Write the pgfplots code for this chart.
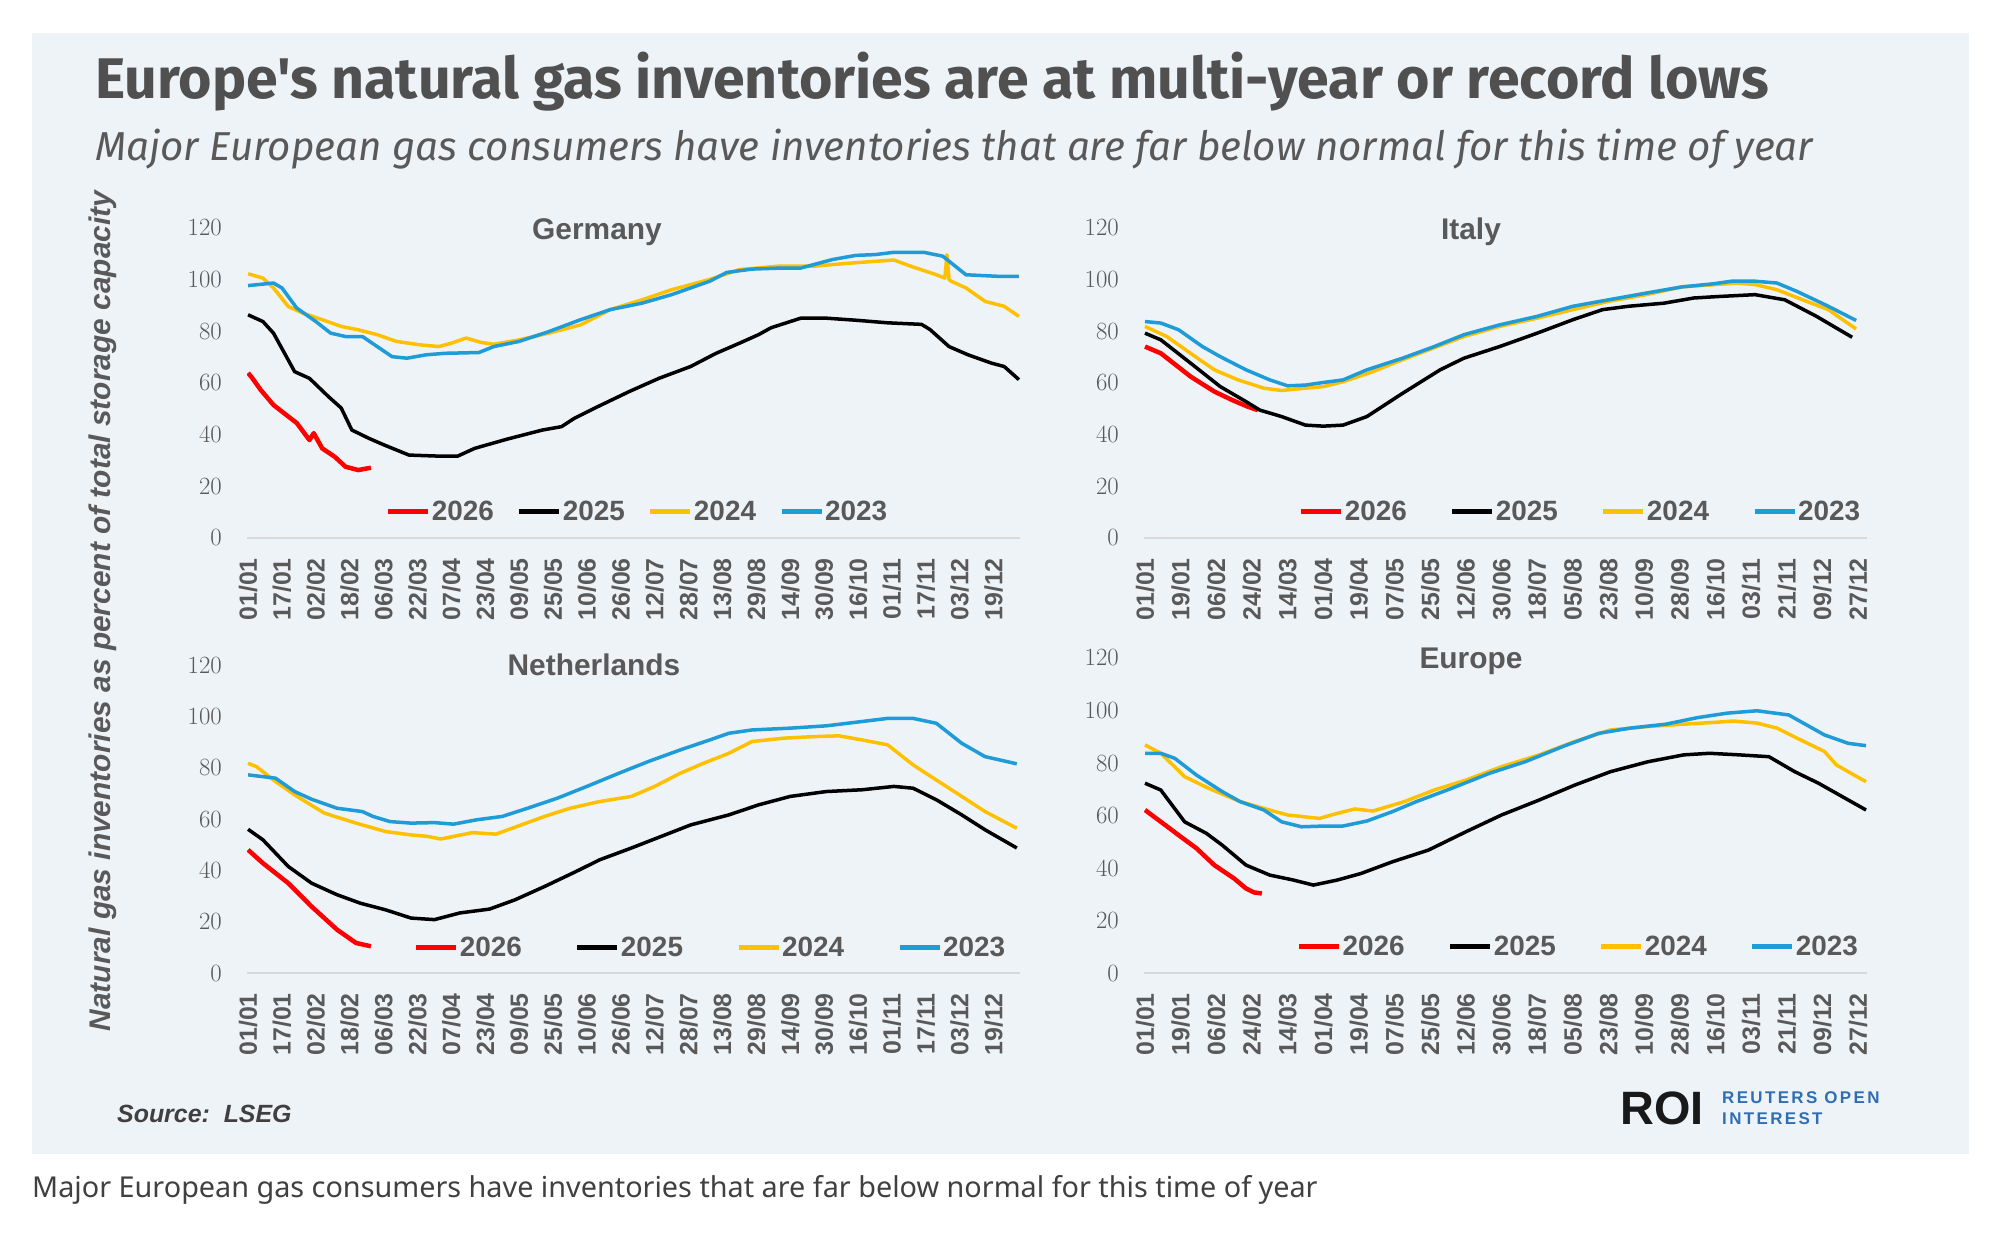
\documentclass[border=0pt]{standalone}
\usepackage{fontspec}
\setmainfont{Liberation Sans}
\newfontfamily\firasans{Fira Sans}
\newfontfamily\notosans{Noto Sans}
\usepackage{pgfplots}
\pgfplotsset{compat=1.18}

\definecolor{panel}{HTML}{EEF3F8}
\definecolor{txtgrey}{HTML}{595959}
\definecolor{titlegrey}{HTML}{505050}
\definecolor{c26}{HTML}{FF0000}
\definecolor{c25}{HTML}{000000}
\definecolor{c24}{HTML}{FFC000}
\definecolor{c23}{HTML}{1F9BD7}
\definecolor{axgrey}{HTML}{D9D9D9}
\definecolor{roiblue}{HTML}{2F6DB5}

\pgfplotsset{
  gas/.style={
    scale only axis,
    xmin=0.5, xmax=365.5, ymin=0, ymax=120,
    axis x line*=bottom, axis y line*=left,
    x axis line style={draw=axgrey, line width=1.5bp, -},
    y axis line style={draw=none},
    major tick length=0pt,
    ytick={0,20,...,120},
    yticklabel style={font=\fontsize{24}{24}\selectfont\bfseries, text=txtgrey, inner sep=0pt},
    yticklabel shift=25bp,
    xticklabel style={font=\fontsize{25}{25}\selectfont\bfseries, text=txtgrey, rotate=90, anchor=east, inner sep=0pt},
    xticklabel shift=20bp,
    legend columns=4,
    legend style={draw=none, fill=none, anchor=center,
      font=\fontsize{28}{28}\selectfont\bfseries,
      nodes={text=txtgrey, inner sep=1bp}},
    legend image code/.code={\draw[#1, line width=5bp] (0bp,0bp) -- (40bp,0bp);},
    every axis plot/.append style={line width=3.5bp, line join=round, mark=none},
  },
  deticks/.style={xtick={1,17,...,353},
    xticklabels={01/01,17/01,02/02,18/02,06/03,22/03,07/04,23/04,09/05,25/05,10/06,26/06,12/07,28/07,13/08,29/08,14/09,30/09,16/10,01/11,17/11,03/12,19/12}},
  itticks/.style={xtick={1,19,...,361},
    xticklabels={01/01,19/01,06/02,24/02,14/03,01/04,19/04,07/05,25/05,12/06,30/06,18/07,05/08,23/08,10/09,28/09,16/10,03/11,21/11,09/12,27/12}},
}

\begin{document}
\begin{tikzpicture}
% page and panel
\fill[white] (0bp,0bp) rectangle (1992bp,-1252bp);
\fill[panel] (32bp,-33bp) rectangle (1969bp,-1154bp);

% titles
\node[anchor=base west, inner sep=0pt, text=titlegrey,
  font=\firasans\bfseries\fontsize{57.5}{57.5}\selectfont] at (95bp,-98bp)
  {Europe's natural gas inventories are at multi-year or record lows};
\node[anchor=base west, inner sep=0pt, text=txtgrey,
  font=\firasans\itshape\fontsize{40.5}{40.5}\selectfont] at (95bp,-160bp)
  {Major European gas consumers have inventories that are far below normal for this time of year};
\node[rotate=90, inner sep=0pt, text=txtgrey,
  font=\bfseries\itshape\fontsize{30}{30}\selectfont] at (103bp,-611bp)
  {Natural gas inventories as percent of total storage capacity};

% Germany
\begin{axis}[gas, deticks, at={(247bp,-538bp)}, anchor=south west, width=773bp, height=310bp,
  legend style={at={(0.5045,0.084)}, /tikz/every even column/.append style={column sep=22bp}}]
\addplot[c26, line width=4.5bp] coordinates {(1,63.9)(3,61.9)(7,57.3)(13,51.5)(18,48.3)(24,44.5)(30,37.9)(32,40.6)(36,34.7)(42,31.4)(47,27.6)(53,26.3)(59,27.2)};
\addlegendentry{2026}
\addplot[c25] coordinates {(1,86.4)(8,83.8)(13,79.3)(23,64.4)(30,61.8)(39,54.7)(45,50.3)(50,41.8)(58,38.6)(65,36.1)(77,32.1)(91,31.7)(100,31.7)(108,34.7)(123,38.2)(140,41.8)(149,43.1)(155,46.3)(166,50.8)(181,56.7)(195,61.8)(210,66.4)(222,71.5)(233,75.4)(242,78.7)(248,81.4)(262,85.1)(274,85.1)(288,84.3)(303,83.3)(319,82.7)(323,80.7)(332,74.1)(341,70.9)(352,67.7)(358,66.4)(365,61.3)};
\addlegendentry{2025}
\addplot[c24] coordinates {(1,102.3)(8,100.6)(13,96.8)(20,89.6)(27,87.0)(36,84.5)(45,81.9)(53,80.6)(62,78.7)(71,76.1)(82,74.8)(91,74.1)(97,75.4)(104,77.4)(111,75.7)(117,75.0)(129,76.7)(143,79.3)(158,82.5)(172,88.4)(187,92.2)(201,96.1)(219,100.1)(233,103.9)(251,105.2)(268,105.2)(282,106.2)(297,107.1)(306,107.6)(314,105.2)(326,101.9)(330,100.6)(331,109.7)(332,100.0)(333,99.4)(340,96.8)(349,91.6)(358,89.7)(365,85.8)};
\addlegendentry{2024}
\addplot[c23] coordinates {(1,97.7)(13,98.7)(17,96.8)(24,89.0)(33,83.8)(40,79.3)(47,78.0)(55,78.0)(62,74.1)(69,70.2)(76,69.6)(85,70.9)(94,71.5)(110,71.8)(117,74.1)(129,76.1)(143,79.9)(158,84.5)(172,88.4)(187,90.9)(201,94.2)(219,99.4)(227,102.8)(239,104.1)(253,104.5)(262,104.5)(277,107.8)(288,109.4)(297,109.7)(306,110.6)(320,110.6)(329,109.1)(340,101.9)(355,101.3)(365,101.3)};
\addlegendentry{2023}
\end{axis}
\node[anchor=base, inner sep=0pt, text=txtgrey, font=\fontsize{30}{30}\selectfont\bfseries] at (597bp,-239bp) {Germany};

% Italy
\begin{axis}[gas, itticks, at={(1144bp,-538bp)}, anchor=south west, width=723bp, height=310bp,
  legend style={at={(0.603,0.084)}, /tikz/every even column/.append style={column sep=42bp}}]
\addplot[c26, line width=4.5bp] coordinates {(1,74.1)(9,71.5)(24,62.5)(36,56.7)(45,53.4)(53,50.8)(58,49.5)};
\addlegendentry{2026}
\addplot[c25] coordinates {(1,79.3)(9,76.7)(24,67.7)(39,58.6)(52,52.8)(59,49.5)(70,47.0)(82,43.7)(91,43.3)(101,43.7)(113,47.0)(131,56.0)(150,65.1)(162,69.6)(180,74.1)(199,79.3)(217,84.5)(232,88.4)(245,89.7)(263,90.9)(278,92.9)(291,93.5)(309,94.2)(324,92.2)(340,85.8)(358,77.7)};
\addlegendentry{2025}
\addplot[c24] coordinates {(1,81.9)(12,78.0)(24,71.5)(36,65.1)(48,61.2)(61,58.0)(70,57.1)(82,58.0)(91,58.6)(101,60.5)(116,64.4)(131,69.0)(162,78.0)(180,81.9)(199,85.1)(217,88.4)(235,91.6)(254,94.2)(272,97.2)(300,98.7)(309,98.1)(320,96.1)(333,92.2)(346,88.4)(360,80.9)};
\addlegendentry{2024}
\addplot[c23] coordinates {(1,83.8)(9,83.2)(18,80.6)(30,74.1)(39,70.2)(52,65.1)(64,61.2)(73,58.9)(82,59.2)(91,60.2)(101,61.2)(113,65.1)(131,69.6)(147,74.1)(162,78.7)(180,82.5)(199,85.8)(217,89.7)(235,92.2)(254,94.8)(272,97.2)(288,98.4)(297,99.4)(309,99.4)(320,98.7)(330,95.5)(346,89.7)(360,84.2)};
\addlegendentry{2023}
\end{axis}
\node[anchor=base, inner sep=0pt, text=txtgrey, font=\fontsize{30}{30}\selectfont\bfseries] at (1471bp,-239bp) {Italy};

% Netherlands
\begin{axis}[gas, deticks, at={(247bp,-973bp)}, anchor=south west, width=773bp, height=308bp,
  legend style={at={(0.599,0.084)}, /tikz/every even column/.append style={column sep=52bp}}]
\addplot[c26, line width=4.5bp] coordinates {(1,48.0)(8,42.8)(20,35.0)(31,25.9)(43,16.9)(52,11.7)(59,10.4)};
\addlegendentry{2026}
\addplot[c25] coordinates {(1,56.0)(8,51.9)(20,41.5)(31,35.0)(43,30.5)(54,27.2)(66,24.6)(78,21.4)(89,20.8)(101,23.4)(115,24.9)(127,28.5)(141,33.7)(156,39.6)(167,44.1)(182,48.7)(196,53.2)(210,57.7)(228,61.6)(242,65.5)(257,68.8)(274,70.7)(291,71.4)(306,72.7)(315,72.0)(326,67.5)(338,61.6)(349,55.8)(364,48.7)};
\addlegendentry{2025}
\addplot[c24] coordinates {(1,81.7)(5,80.4)(14,74.6)(23,69.4)(37,62.3)(52,58.4)(66,55.1)(78,53.8)(86,53.2)(92,52.2)(107,54.7)(118,54.1)(130,57.7)(141,61.0)(153,64.2)(167,66.8)(182,68.8)(193,72.7)(205,77.8)(216,81.7)(228,85.6)(239,90.2)(254,91.5)(268,92.1)(280,92.4)(291,90.8)(303,88.9)(315,81.1)(326,75.2)(338,68.8)(349,62.9)(364,56.4)};
\addlegendentry{2024}
\addplot[c23] coordinates {(1,77.2)(14,75.9)(23,70.7)(31,67.7)(43,64.2)(55,62.9)(60,61.0)(68,59.0)(78,58.4)(89,58.6)(98,58.0)(109,59.7)(121,61.0)(133,64.2)(147,68.1)(161,72.7)(176,77.8)(190,82.4)(205,86.9)(219,90.8)(228,93.4)(239,94.7)(257,95.4)(274,96.3)(291,98.0)(303,99.2)(315,99.2)(326,97.3)(338,89.5)(349,84.3)(364,81.5)};
\addlegendentry{2023}
\end{axis}
\node[anchor=base, inner sep=0pt, text=txtgrey, font=\fontsize{30}{30}\selectfont\bfseries] at (594bp,-675bp) {Netherlands};

% Europe
\begin{axis}[gas, itticks, at={(1144bp,-973bp)}, anchor=south west, width=723bp, height=315bp,
  legend style={at={(0.600,0.083)}, /tikz/every even column/.append style={column sep=42bp}}]
\addplot[c26, line width=4.5bp] coordinates {(1,62.1)(9,57.6)(18,52.5)(27,47.5)(36,41.1)(46,36.0)(52,32.2)(56,30.7)(60,30.3)};
\addlegendentry{2026}
\addplot[c25] coordinates {(1,72.3)(9,69.7)(21,57.6)(32,53.2)(40,48.7)(52,41.1)(64,37.3)(76,35.4)(86,33.5)(98,35.4)(110,37.9)(126,42.4)(144,46.8)(163,53.8)(181,60.2)(200,65.9)(218,71.6)(236,76.7)(255,80.5)(273,83.1)(286,83.7)(301,83.1)(316,82.4)(329,76.7)(341,72.3)(353,67.2)(365,62.1)};
\addlegendentry{2025}
\addplot[c24] coordinates {(1,86.9)(9,83.7)(21,74.8)(33,70.4)(49,65.3)(61,62.7)(73,60.2)(89,58.9)(98,60.8)(107,62.5)(116,61.7)(132,65.3)(147,69.7)(163,73.5)(181,78.6)(200,83.1)(218,88.2)(236,92.6)(255,93.9)(273,94.8)(289,95.5)(298,96.0)(310,95.2)(320,93.3)(332,88.8)(344,84.4)(350,79.3)(359,75.4)(365,72.9)};
\addlegendentry{2024}
\addplot[c23] coordinates {(1,83.7)(9,83.7)(16,81.8)(27,75.4)(40,69.1)(49,65.3)(61,62.1)(70,57.6)(80,55.7)(92,56.0)(101,56.0)(113,57.9)(126,61.5)(138,65.3)(156,70.4)(175,76.1)(193,80.5)(212,86.3)(230,91.3)(246,93.3)(264,94.8)(280,97.3)(295,99.0)(310,99.9)(326,98.3)(335,94.5)(344,90.7)(356,87.5)(365,86.6)};
\addlegendentry{2023}
\end{axis}
\node[anchor=base, inner sep=0pt, text=txtgrey, font=\fontsize{30}{30}\selectfont\bfseries] at (1471bp,-668bp) {Europe};

% footer
\node[anchor=base west, inner sep=0pt, text=black!75,
  font=\bfseries\itshape\fontsize{25}{25}\selectfont] at (117bp,-1122bp) {Source:\ \ LSEG};
\node[anchor=base west, inner sep=0pt, text=black!90,
  font=\bfseries\fontsize{47}{47}\selectfont] at (1620bp,-1124bp) {ROI};
\node[anchor=base west, inner sep=0pt, text=roiblue,
  font=\bfseries\fontsize{17}{17}\selectfont\addfontfeature{LetterSpace=14}] at (1722bp,-1103bp) {REUTERS OPEN};
\node[anchor=base west, inner sep=0pt, text=roiblue,
  font=\bfseries\fontsize{17}{17}\selectfont\addfontfeature{LetterSpace=14}] at (1722bp,-1124bp) {INTEREST};
\node[anchor=base west, inner sep=0pt, text=black!75,
  font=\notosans\fontsize{28.9}{28.9}\selectfont] at (32bp,-1197bp)
  {Major European gas consumers have inventories that are far below normal for this time of year};
\end{tikzpicture}
\end{document}
